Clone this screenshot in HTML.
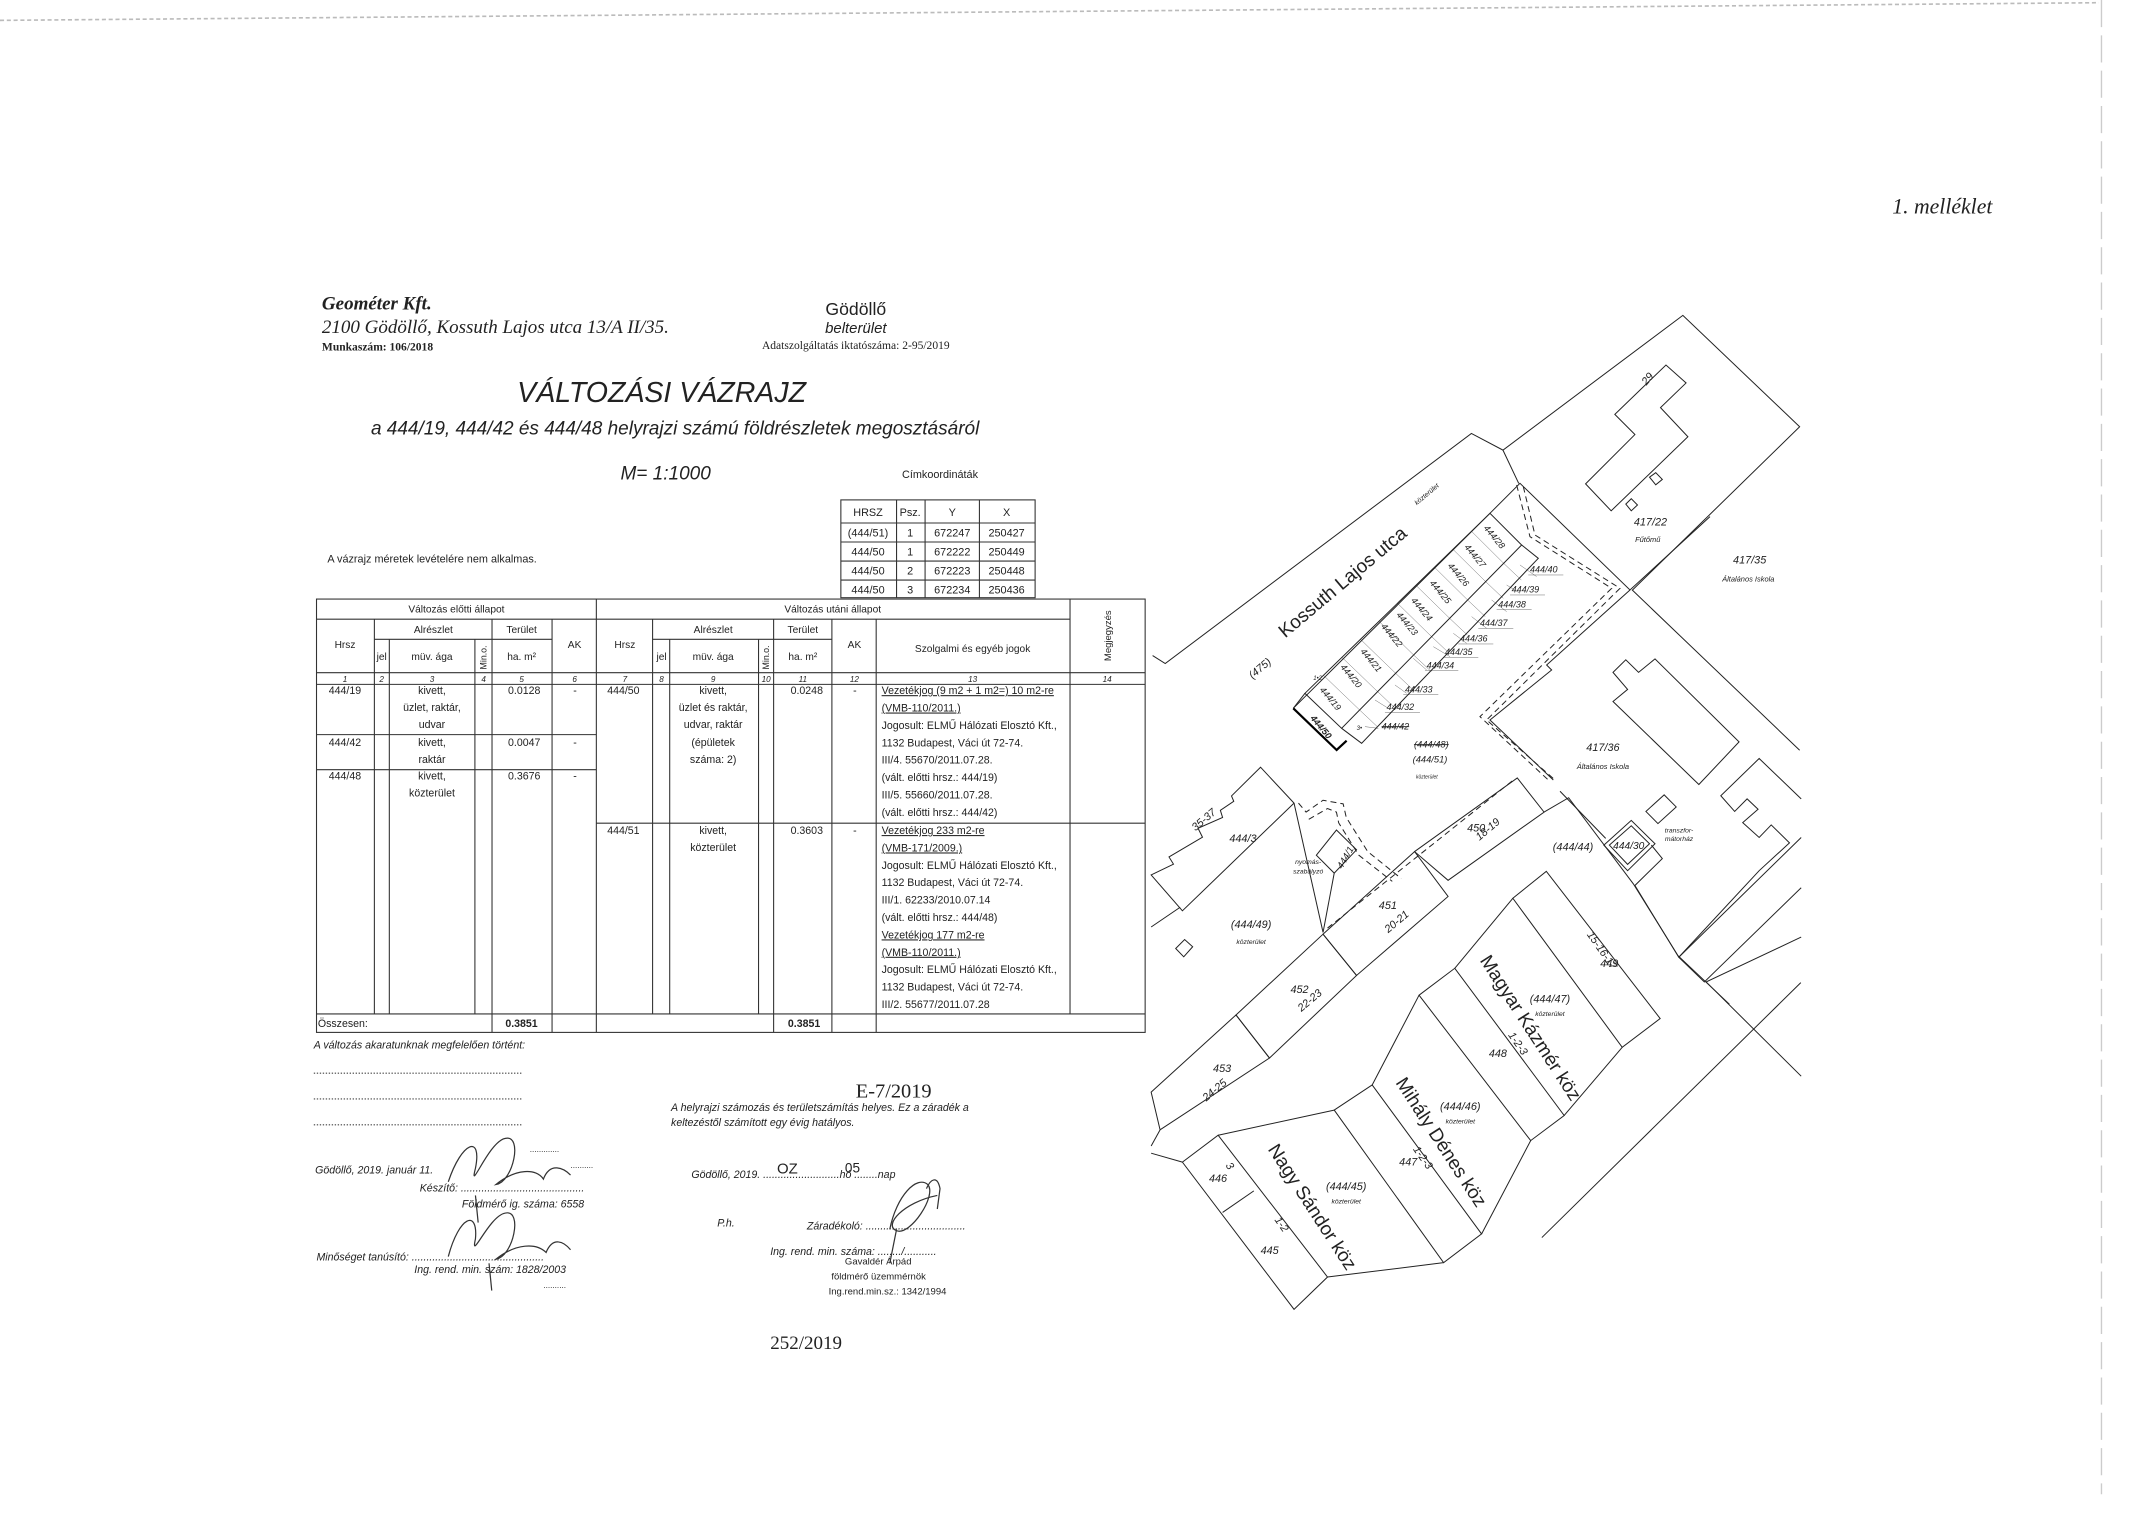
<!DOCTYPE html>
<html><head><meta charset="utf-8"><style>
html,body{margin:0;padding:0;background:#fff;}
svg{display:block;}
text{font-family:"Liberation Sans",sans-serif;fill:#222;}
.s{font-family:"Liberation Serif",serif;}
.l{stroke:#222;stroke-width:1;fill:none;vector-effect:non-scaling-stroke;}
.t{stroke:#333;stroke-width:0.8;fill:none;}
.d{stroke:#222;stroke-width:1;fill:none;stroke-dasharray:6 4;vector-effect:non-scaling-stroke;}
</style></head><body>
<svg width="2130" height="1516" viewBox="0 0 1568 1116" preserveAspectRatio="none" xmlns="http://www.w3.org/2000/svg">
<rect width="1568" height="1116" fill="#fff"/>
<!-- scan artefacts -->
<line x1="0" y1="15" x2="1545" y2="2" stroke="#bbb" stroke-width="1.2" stroke-dasharray="3 2"/>
<line x1="1547" y1="0" x2="1547" y2="1100" stroke="#ccc" stroke-width="1" stroke-dasharray="20 6"/>

<text x="1393" y="157" class="s" font-size="16" font-style="italic">1.  melléklet</text>

<!-- header -->
<text x="237" y="228" class="s" font-size="14" font-style="italic" font-weight="bold">Geométer Kft.</text>
<text x="237" y="245" class="s" font-size="14" font-style="italic">2100 Gödöllő, Kossuth Lajos utca 13/A II/35.</text>
<text x="237" y="258" class="s" font-size="8.5" font-weight="bold">Munkaszám: 106/2018</text>
<text x="630" y="232" font-size="13" text-anchor="middle">Gödöllő</text>
<text x="630" y="245" font-size="11" font-style="italic" text-anchor="middle">belterület</text>
<text x="630" y="257" class="s" font-size="8.5" text-anchor="middle">Adatszolgáltatás iktatószáma: 2-95/2019</text>
<text x="487" y="296" font-size="21" font-style="italic" text-anchor="middle" fill="#444">VÁLTOZÁSI VÁZRAJZ</text>
<text x="497" y="320" font-size="14" font-style="italic" text-anchor="middle">a 444/19, 444/42 és 444/48 helyrajzi számú földrészletek megosztásáról</text>
<text x="490" y="353" font-size="14" font-style="italic" text-anchor="middle">M= 1:1000</text>
<text x="692" y="352" font-size="8" text-anchor="middle">Címkoordináták</text>
<text x="241" y="414" font-size="8">A vázrajz méretek levételére nem alkalmas.</text>

<!-- coordinate table -->
<g class="t">
<rect x="619" y="368" width="143" height="72"/>
<line x1="619" y1="385" x2="762" y2="385"/><line x1="619" y1="399" x2="762" y2="399"/><line x1="619" y1="413" x2="762" y2="413"/><line x1="619" y1="427" x2="762" y2="427"/>
<line x1="660" y1="368" x2="660" y2="440"/><line x1="681" y1="368" x2="681" y2="440"/><line x1="721" y1="368" x2="721" y2="440"/>
</g>
<g font-size="8" text-anchor="middle">
<text x="639" y="380">HRSZ</text><text x="670" y="380">Psz.</text><text x="701" y="380">Y</text><text x="741" y="380">X</text>
<text x="639" y="395">(444/51)</text><text x="670" y="395">1</text><text x="701" y="395">672247</text><text x="741" y="395">250427</text>
<text x="639" y="409">444/50</text><text x="670" y="409">1</text><text x="701" y="409">672222</text><text x="741" y="409">250449</text>
<text x="639" y="423">444/50</text><text x="670" y="423">2</text><text x="701" y="423">672223</text><text x="741" y="423">250448</text>
<text x="639" y="437">444/50</text><text x="670" y="437">3</text><text x="701" y="437">672234</text><text x="741" y="437">250436</text>
</g>

<!-- main table -->
<g class="t">
<rect x="233" y="441" width="610" height="319"/>
<line x1="439" y1="441" x2="439" y2="760"/>
<line x1="787.7" y1="441" x2="787.7" y2="746.4"/>
<line x1="233" y1="455.8" x2="787.7" y2="455.8"/>
<line x1="275.6" y1="455.8" x2="275.6" y2="746.4"/>
<line x1="406.4" y1="455.8" x2="406.4" y2="760"/>
<line x1="362.2" y1="455.8" x2="362.2" y2="760"/>
<line x1="480.4" y1="455.8" x2="480.4" y2="746.4"/>
<line x1="569.5" y1="455.8" x2="569.5" y2="760"/>
<line x1="612.4" y1="455.8" x2="612.4" y2="760"/>
<line x1="645" y1="455.8" x2="645" y2="760"/>
<line x1="275.6" y1="470.6" x2="406.4" y2="470.6"/>
<line x1="480.4" y1="470.6" x2="612.4" y2="470.6"/>
<line x1="286.6" y1="470.6" x2="286.6" y2="746.4"/>
<line x1="349.6" y1="470.6" x2="349.6" y2="746.4"/>
<line x1="493" y1="470.6" x2="493" y2="746.4"/>
<line x1="558.4" y1="470.6" x2="558.4" y2="746.4"/>
<line x1="233" y1="495.2" x2="843" y2="495.2"/>
<line x1="233" y1="503.8" x2="843" y2="503.8"/>
<line x1="233" y1="540.8" x2="439" y2="540.8"/>
<line x1="233" y1="566.6" x2="439" y2="566.6"/>
<line x1="439" y1="606" x2="843" y2="606"/>
<line x1="233" y1="746.4" x2="843" y2="746.4"/>
</g>
<g font-size="7.5" text-anchor="middle">
<text x="336" y="451">Változás előtti állapot</text>
<text x="613" y="451">Változás utáni állapot</text>
<text x="319" y="466">Alrészlet</text><text x="384" y="466">Terület</text>
<text x="525" y="466">Alrészlet</text><text x="591" y="466">Terület</text>
<text x="254" y="477">Hrsz</text><text x="423" y="477">AK</text>
<text x="460" y="477">Hrsz</text><text x="629" y="477">AK</text>
<text x="716" y="480">Szolgalmi és egyéb jogok</text>
<text x="281" y="486">jel</text><text x="318" y="486">müv. ága</text><text x="384" y="486">ha. m²</text>
<text x="487" y="486">jel</text><text x="525" y="486">müv. ága</text><text x="591" y="486">ha. m²</text>
<text transform="translate(358,484) rotate(-90)" font-size="6.5">Min.o.</text>
<text transform="translate(566,484) rotate(-90)" font-size="6.5">Min.o.</text>
<text transform="translate(818,468) rotate(-90)" font-size="7">Megjegyzés</text>
<g font-size="6" font-style="italic">
<text x="254" y="502">1</text><text x="281" y="502">2</text><text x="318" y="502">3</text><text x="356" y="502">4</text><text x="384" y="502">5</text><text x="423" y="502">6</text>
<text x="460" y="502">7</text><text x="487" y="502">8</text><text x="525" y="502">9</text><text x="564" y="502">10</text><text x="591" y="502">11</text><text x="629" y="502">12</text><text x="716" y="502">13</text><text x="815" y="502">14</text>
</g>
</g>
<g font-size="7.8">
<text x="242" y="511">444/19</text><text x="242" y="549">444/42</text><text x="242" y="574">444/48</text>
<text x="447" y="511">444/50</text><text x="447" y="614">444/51</text>
<text x="374" y="511">0.0128</text><text x="374" y="549">0.0047</text><text x="374" y="574">0.3676</text>
<text x="582" y="511">0.0248</text><text x="582" y="614">0.3603</text>
<text x="422" y="511">-</text><text x="422" y="549">-</text><text x="422" y="574">-</text><text x="628" y="511">-</text><text x="628" y="614">-</text>
<g text-anchor="middle">
<text x="318" y="511">kivett,</text><text x="318" y="523.5">üzlet, raktár,</text><text x="318" y="536">udvar</text>
<text x="318" y="549">kivett,</text><text x="318" y="561.5">raktár</text>
<text x="318" y="574">kivett,</text><text x="318" y="586.5">közterület</text>
<text x="525" y="511">kivett,</text><text x="525" y="523.5">üzlet és raktár,</text><text x="525" y="536">udvar, raktár</text><text x="525" y="549">(épületek</text><text x="525" y="561.5">száma: 2)</text>
<text x="525" y="614">kivett,</text><text x="525" y="626.5">közterület</text>
</g>
<g>
<text x="649" y="511" text-decoration="underline">Vezetékjog (9 m2 + 1 m2=) 10 m2-re</text>
<text x="649" y="523.8" text-decoration="underline">(VMB-110/2011.)</text>
<text x="649" y="536.6">Jogosult: ELMŰ Hálózati Elosztó Kft.,</text>
<text x="649" y="549.4">1132 Budapest, Váci út 72-74.</text>
<text x="649" y="562.2">III/4. 55670/2011.07.28.</text>
<text x="649" y="575">(vált. előtti hrsz.: 444/19)</text>
<text x="649" y="587.8">III/5. 55660/2011.07.28.</text>
<text x="649" y="600.6">(vált. előtti hrsz.: 444/42)</text>
<text x="649" y="614" text-decoration="underline">Vezetékjog 233 m2-re</text>
<text x="649" y="626.8" text-decoration="underline">(VMB-171/2009.)</text>
<text x="649" y="639.6">Jogosult: ELMŰ Hálózati Elosztó Kft.,</text>
<text x="649" y="652.4">1132 Budapest, Váci út 72-74.</text>
<text x="649" y="665.2">III/1. 62233/2010.07.14</text>
<text x="649" y="678">(vált. előtti hrsz.: 444/48)</text>
<text x="649" y="690.8" text-decoration="underline">Vezetékjog 177 m2-re</text>
<text x="649" y="703.6" text-decoration="underline">(VMB-110/2011.)</text>
<text x="649" y="716.4">Jogosult: ELMŰ Hálózati Elosztó Kft.,</text>
<text x="649" y="729.2">1132 Budapest, Váci út 72-74.</text>
<text x="649" y="742">III/2. 55677/2011.07.28</text>
</g>
<text x="234" y="756">Összesen:</text>
<text x="372" y="756" font-weight="bold">0.3851</text>
<text x="580" y="756" font-weight="bold">0.3851</text>
</g>

<!-- bottom texts -->
<g font-size="7.8" font-style="italic">
<text x="231" y="772">A változás akaratunknak megfelelően történt:</text>
<text x="494" y="818">A helyrajzi számozás és területszámítás helyes. Ez a záradék a</text>
<text x="494" y="829">keltezéstől számított egy évig hatályos.</text>
<text x="232" y="864">Gödöllő, 2019. január 11.</text>
<text x="309" y="877">Készítő: ..........................................</text>
<text x="340" y="889">Földmérő ig. száma: 6558</text>
<text x="509" y="867">Gödöllő, 2019. ..........................hó ........nap</text>
<text x="528" y="903">P.h.</text>
<text x="594" y="905">Záradékoló: ..................................</text>
<text x="567" y="924">Ing. rend. min. száma: ......../...........</text>
<text x="233" y="928">Minőséget tanúsító: .............................................</text>
<text x="305" y="937">Ing. rend. min. szám: 1828/2003</text>
</g>
<g stroke="#444" stroke-width="0.8" stroke-dasharray="1 1.2">
<line x1="231" y1="790" x2="385" y2="790"/><line x1="231" y1="809" x2="385" y2="809"/><line x1="231" y1="828" x2="385" y2="828"/>
</g>
<text x="630" y="808" font-size="15" fill="#333" class="s">E-7/2019</text>
<text x="572" y="864" font-size="11" fill="#333">OZ</text>
<text x="622" y="863" font-size="10" fill="#333">05</text>
<text x="567" y="993" font-size="14" fill="#444" class="s">252/2019</text>
<g font-size="7" fill="#aaa" class="s">
<text x="622" y="931" fill="#999">Gavaldér Árpád</text><text x="612" y="942" fill="#aaa">földmérő üzemmérnök</text><text x="610" y="953" fill="#bbb">Ing.rend.min.sz.: 1342/1994</text>
</g>
<!-- signatures -->
<g stroke="#333" stroke-width="0.9" fill="none">
<path d="M330 870 C340 840,355 835,350 860 C345 880,360 840,372 838 C385 835,378 870,365 872 C380 860,395 860,400 868 C405 855,415 860,420 865"/>
<path d="M330 925 C338 895,352 890,350 912 C346 930,360 895,372 893 C385 890,378 925,365 927 C380 915,395 915,402 922 C407 910,415 914,420 920"/>
<path d="M350 880 L352 900 M360 930 L362 950"/>
<path d="M655 905 C660 880,675 865,683 872 C690 880,670 910,660 906 C650 902,665 885,690 880 M682 875 C685 868,690 865,692 875 L690 890 M660 905 L655 930"/>
</g>
<g fill="#ccc" font-size="6" class="s"><text x="390" y="848">.............</text><text x="420" y="860">..........</text><text x="400" y="948">..........</text></g>

<!-- ===== MAP ===== -->
<!-- upper (zoom2 frame) -->
<g transform="translate(839.2,213.5) scale(0.4647,0.491)">
<polyline class="l" points="20,548 40,560 525,215 575,240 860,38 1045,205 780,450 1045,690"/>
<polyline class="l" points="575,240 600,290"/>
</g>
<!-- zoom7 frame -->
<g transform="translate(1148.4,220.8) scale(0.269,0.3303)">
<polygon class="l" points="70,410 205,300 150,255 290,145 345,185 275,240 350,305 140,470"/>
<polygon class="l" points="245,395 262,385 280,400 262,412"/>
<polygon class="l" points="180,455 195,443 212,457 195,470"/>
<polygon class="l" points="145,830 180,802 215,830 260,800 490,985 380,1080 145,895 185,868"/>
<polygon class="l" points="235,1140 285,1103 318,1130 268,1167"/>
<polygon class="l" points="120,1215 195,1160 260,1212 185,1272"/>
<polygon class="l" points="135,1215 195,1172 245,1212 185,1258"/>
<polyline class="l" points="660,1112 545,1022 440,1105 478,1140 512,1112 542,1135 500,1165 545,1198 578,1170 628,1210 545,1272 325,1465"/>
<polyline class="l" points="660,1198 325,1465 395,1520 660,1310"/>
<polyline class="l" points="325,1465 205,1305 280,1245 250,1215"/>
<polyline class="l" points="0,1095 125,1200"/>
<polyline class="l" points="660,1420 400,1520 660,1730"/>
</g>
<!-- strip / corridor (zoom5 frame) -->
<g transform="translate(949.6,338.6) scale(0.2454)">
<polyline class="l" points="10,745 600,160 690,70 1020,390 1260,170"/>
<polyline class="l" points="1020,390 770,615 785,630 600,780 790,960"/>
<polyline class="d" points="680,75 720,230 965,385 570,770 775,960"/>
<polyline class="d" points="700,80 735,225 990,385 590,780 795,960"/>
<polygon class="l" points="45,700 600,160 695,255 155,805"/>
<g class="l">
<line x1="100.5" y1="646" x2="209" y2="750"/><line x1="156" y1="592" x2="263" y2="695"/><line x1="211.5" y1="538" x2="317" y2="640"/>
<line x1="267" y1="484" x2="371" y2="585"/><line x1="322.5" y1="430" x2="425" y2="530"/><line x1="378" y1="376" x2="479" y2="475"/>
<line x1="433.5" y1="322" x2="533" y2="420"/><line x1="489" y1="268" x2="587" y2="365"/><line x1="544.5" y1="214" x2="641" y2="310"/>
</g>
<polyline class="l" points="155,805 215,850 745,295 695,255"/>
<g class="l">
<line x1="209" y1="750" x2="262" y2="800"/><line x1="263" y1="695" x2="316" y2="745"/><line x1="317" y1="640" x2="370" y2="690"/>
<line x1="371" y1="585" x2="424" y2="635"/><line x1="425" y1="530" x2="478" y2="580"/><line x1="479" y1="475" x2="532" y2="525"/>
<line x1="533" y1="420" x2="586" y2="470"/><line x1="587" y1="365" x2="640" y2="415"/><line x1="641" y1="310" x2="694" y2="360"/>
<line x1="690" y1="315" x2="740" y2="350"/><line x1="650" y1="375" x2="690" y2="400"/><line x1="605" y1="420" x2="650" y2="455"/>
<line x1="545" y1="470" x2="590" y2="505"/><line x1="490" y1="520" x2="530" y2="550"/><line x1="430" y1="560" x2="480" y2="590"/>
<line x1="370" y1="595" x2="410" y2="630"/><line x1="315" y1="675" x2="350" y2="700"/><line x1="255" y1="720" x2="295" y2="745"/><line x1="225" y1="800" x2="265" y2="805"/>
</g>
<polyline points="10,745 140,870 170,842" fill="none" stroke="#000" stroke-width="2.2" vector-effect="non-scaling-stroke"/>
<polyline class="l" points="45,700 10,745"/>
<g font-size="27" font-style="italic">
<text x="720" y="338">444/40</text><text x="665" y="398">444/39</text><text x="625" y="442">444/38</text><text x="570" y="498">444/37</text>
<text x="510" y="545">444/36</text><text x="465" y="585">444/35</text><text x="410" y="625">444/34</text><text x="345" y="697">444/33</text>
<text x="290" y="750">444/32</text><text x="275" y="808" text-decoration="line-through">444/42</text>
<text x="372" y="862" font-size="28" text-decoration="line-through">(444/48)</text>
<text x="368" y="908" font-size="28">(444/51)</text>
<text x="378" y="955" font-size="15">közterület</text>
<text x="200" y="810" font-size="18">3•</text><text x="70" y="660" font-size="18">1•2</text>
</g>
<g class="l">
<line x1="715" y1="345" x2="820" y2="345"/><line x1="660" y1="405" x2="765" y2="405"/><line x1="620" y1="449" x2="725" y2="449"/>
<line x1="565" y1="505" x2="670" y2="505"/><line x1="505" y1="552" x2="610" y2="552"/><line x1="460" y1="592" x2="565" y2="592"/>
<line x1="405" y1="632" x2="505" y2="632"/><line x1="340" y1="704" x2="445" y2="704"/><line x1="285" y1="757" x2="390" y2="757"/>
</g>
<g font-size="27" font-style="italic">
<text transform="translate(580,205) rotate(50)">444/28</text>
<text transform="translate(522,262) rotate(50)">444/27</text>
<text transform="translate(472,318) rotate(50)">444/26</text>
<text transform="translate(418,370) rotate(50)">444/25</text>
<text transform="translate(362,422) rotate(50)">444/24</text>
<text transform="translate(318,465) rotate(50)">444/23</text>
<text transform="translate(272,500) rotate(50)">444/22</text>
<text transform="translate(210,575) rotate(50)">444/21</text>
<text transform="translate(150,622) rotate(50)">444/20</text>
<text transform="translate(88,690) rotate(50)">444/19</text>
<text transform="translate(60,775) rotate(50)" font-weight="bold">444/50</text>
</g>
</g>
<!-- lower (zoom6 frame) -->
<g transform="translate(839.2,559.5) scale(0.3287,0.2643)">
<polygon class="l" points="25,320 75,290 65,270 140,215 130,190 185,160 180,140 210,115 205,100 270,20 345,120 95,420"/>
<polyline class="l" points="25,465 90,410"/>
<polyline class="l" points="345,120 410,480"/>
<polygon class="l" points="395,265 440,195 485,250 435,315"/>
<polyline class="l" points="410,480 435,315"/>
<polyline class="d" points="355,120 372,145 410,112 455,122 462,160 510,255 585,330"/>
<polyline class="d" points="378,165 420,135 440,145 445,175 490,265 565,338"/>
<polyline class="d" points="420,468 840,52"/>
<polygon class="l" points="615,255 845,50 905,145 690,335"/>
<polygon class="l" points="410,485 615,255 690,380 485,600"/>
<polygon class="l" points="215,710 410,485 485,600 290,830"/>
<polygon class="l" points="25,925 215,710 290,830 45,1030"/>
<polyline class="l" points="905,145 960,105 1105,345 1205,545 1320,680"/>
<polygon class="l" points="835,385 910,310 1165,720 1080,800"/>
<polygon class="l" points="625,655 705,580 950,990 875,1060"/>
<polygon class="l" points="435,975 520,905 765,1320 680,1400"/>
<polygon class="l" points="95,1120 175,1045 420,1440 345,1530"/>
<polyline class="l" points="185,1260 255,1200"/>
<polyline class="l" points="835,385 705,580 M0 0"/>
<polyline class="l" points="625,655 520,905"/>
<polyline class="l" points="435,975 175,1045"/>
<polyline class="l" points="25,1095 95,1120"/>
<polyline class="l" points="420,1440 680,1400"/>
<polyline class="l" points="765,1320 875,1060"/>
<polyline class="l" points="950,990 1080,800"/>
<polyline class="l" points="900,1330 1480,620"/>
<polyline class="l" points="25,1075 45,1030"/>
<polygon class="l" points="80,525 100,500 118,520 98,548"/>
</g>

<!-- map labels -->
<g font-size="8" font-style="italic">
<text x="1215" y="387" text-anchor="middle">417/22</text>
<text x="1213" y="399" text-anchor="middle" font-size="5.5">Fűtőmű</text>
<text x="1288" y="415" text-anchor="middle">417/35</text>
<text x="1287" y="428" text-anchor="middle" font-size="5.5">Általános Iskola</text>
<text x="1180" y="553" text-anchor="middle">417/36</text>
<text x="1180" y="566" text-anchor="middle" font-size="5.5">Általános Iskola</text>
<text x="1199" y="625" text-anchor="middle" font-size="7.5">444/30</text>
<text x="1236" y="613" text-anchor="middle" font-size="5">transzfor-</text>
<text x="1236" y="619" text-anchor="middle" font-size="5">mátorház</text>
<text x="1158" y="626" text-anchor="middle">(444/44)</text>
<text x="921" y="683" text-anchor="middle">(444/49)</text>
<text x="921" y="695" text-anchor="middle" font-size="5">közterület</text>
<text x="1141" y="738" text-anchor="middle">(444/47)</text>
<text x="1141" y="748" text-anchor="middle" font-size="5">közterület</text>
<text x="1075" y="817" text-anchor="middle">(444/46)</text>
<text x="1075" y="827" text-anchor="middle" font-size="5">közterület</text>
<text x="991" y="876" text-anchor="middle">(444/45)</text>
<text x="991" y="886" text-anchor="middle" font-size="5">közterület</text>
<text x="963" y="636" text-anchor="middle" font-size="5">nyomás-</text>
<text x="963" y="643" text-anchor="middle" font-size="5">szabályzó</text>
<text x="1080" y="612">450</text><text x="893" y="789">453</text><text x="950" y="731">452</text><text x="1015" y="669">451</text>
<text x="890" y="870">446</text><text x="928" y="923">445</text><text x="1030" y="858">447</text><text x="1096" y="778">448</text><text x="1178" y="712">449</text>
<text x="905" y="620">444/3</text>
<text transform="translate(1089,619) rotate(-40)">18-19</text>
<text transform="translate(1022,687) rotate(-40)">20-21</text>
<text transform="translate(958,745) rotate(-40)">22-23</text>
<text transform="translate(888,811) rotate(-40)">24-25</text>
<text transform="translate(880,612) rotate(-40)">35-37</text>
<text transform="translate(988,640) rotate(-60)" font-size="7">444/1</text>
<text transform="translate(1168,688) rotate(55)">15-16-17</text>
<text transform="translate(1110,762) rotate(55)">1-2-3</text>
<text transform="translate(1040,846) rotate(55)">1-2-3</text>
<text transform="translate(938,898) rotate(55)">1-2</text>
<text transform="translate(902,858) rotate(55)">3</text>
<text transform="translate(1212,284) rotate(-50)">29</text>
<text transform="translate(922,500) rotate(-40)">(475)</text>
<text transform="translate(1043,372) rotate(-40)" font-size="5">közterület</text>
</g>
<g font-size="14">
<text transform="translate(946,470) rotate(-40)">Kossuth Lajos utca</text>
<text transform="translate(1089,707) rotate(57)">Magyar Kázmér köz</text>
<text transform="translate(1027,797) rotate(57)">Mihály Dénes köz</text>
<text transform="translate(933,846) rotate(57)">Nagy Sándor köz</text>
</g>
</svg>
</body></html>
